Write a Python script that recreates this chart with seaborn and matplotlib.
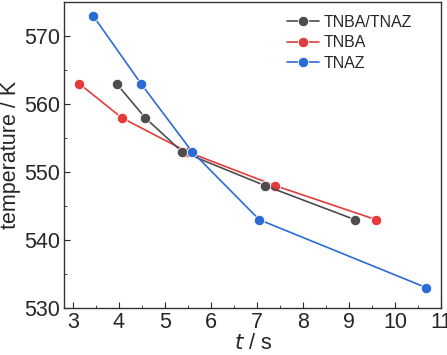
import matplotlib
matplotlib.use("Agg")
import matplotlib.pyplot as plt
import pandas as pd
import seaborn as sns
from matplotlib.ticker import MultipleLocator

# data
t_mix = [3.95, 4.57, 5.37, 7.18, 9.13]
T_mix = [563, 558, 553, 548, 543]
t_tnba = [3.14, 4.06, 5.48, 7.40, 9.59]
T_tnba = [563, 558, 553, 548, 543]
t_tnaz = [3.44, 4.48, 5.59, 7.05, 10.68]
T_tnaz = [573, 563, 553, 543, 533]
names = ["TNBA/TNAZ", "TNBA", "TNAZ"]
colors = {"TNBA/TNAZ": "#4d4d4d", "TNBA": "#e53b3b", "TNAZ": "#2b6bd6"}

df = pd.concat([
    pd.DataFrame({"t": t_mix, "T": T_mix, "sample": names[0]}),
    pd.DataFrame({"t": t_tnba, "T": T_tnba, "sample": names[1]}),
    pd.DataFrame({"t": t_tnaz, "T": T_tnaz, "sample": names[2]}),
])

sns.set_style("ticks")
plt.rcParams['font.family'] = ['Liberation Sans', 'DejaVu Sans']

fig = plt.figure(figsize=(4.47, 3.55), dpi=100)
ax = fig.add_axes([0.144, 0.132, 0.843, 0.862])

# red drawn first so the black and blue markers sit on top of it
sns.lineplot(data=df, x="t", y="T", hue="sample",
             hue_order=["TNBA", "TNBA/TNAZ", "TNAZ"],
             palette=colors, marker="o", markersize=7.5, sort=False,
             linewidth=1.2, markeredgewidth=0.6, ax=ax)

ax.set_xlim(2.815, 11)
ax.set_ylim(530, 575)
ax.xaxis.set_major_locator(MultipleLocator(1))
ax.xaxis.set_minor_locator(MultipleLocator(0.5))
ax.yaxis.set_major_locator(MultipleLocator(10))
ax.yaxis.set_minor_locator(MultipleLocator(5))
ax.tick_params(which="both", direction="in", labelsize=15.5, top=False, right=False)
ax.tick_params(which="major", length=4, pad=3)
ax.tick_params(which="minor", length=2.5)
for s in ax.spines.values():
    s.set_linewidth(1.0)
    s.set_color("#333333")

ax.set_xlabel("$t$ / s", fontsize=15.5, labelpad=0)
ax.set_ylabel("temperature / K", fontsize=15.5, labelpad=2)

handles, labels = ax.get_legend_handles_labels()
order = [labels.index(n) for n in names]
ax.legend([handles[i] for i in order], names, loc="upper right",
          frameon=False, fontsize=11.5, handlelength=2.0, handletextpad=0.3,
          labelspacing=0.35, borderaxespad=0, bbox_to_anchor=(0.94, 0.98))

fig.savefig("out.png", dpi=100)
